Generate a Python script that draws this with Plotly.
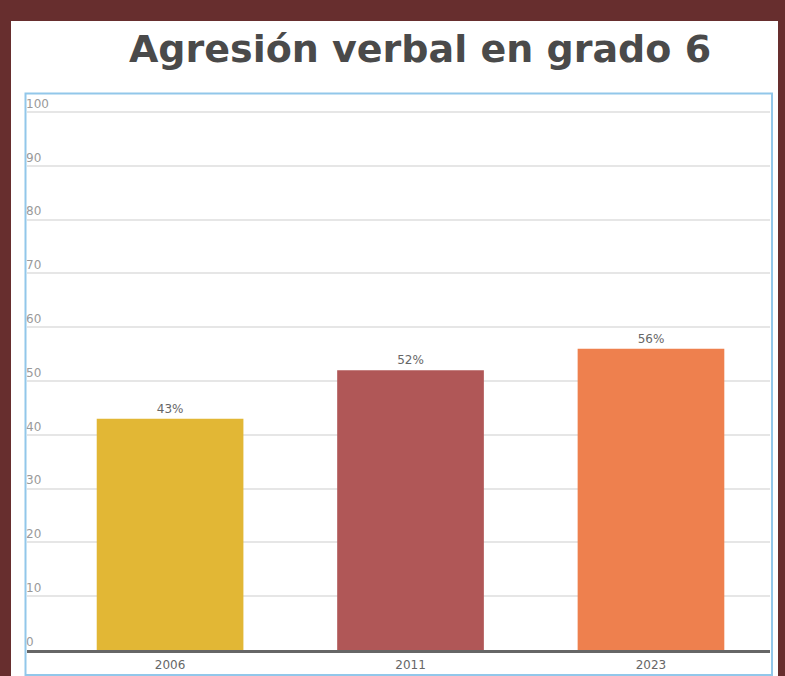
import plotly.graph_objects as go

# data
years = ["2006", "2011", "2023"]
values = [43, 52, 56]
bar_colors = ["#E2B735", "#B05757", "#EE804E"]
y_ticks = [0, 10, 20, 30, 40, 50, 60, 70, 80, 90, 100]

W, H = 785, 676
# plot area: y=0 at 650px, y=100 at 112px; top extended so the "100" label shows
L, R, T, B = 27, 15, 88, 26
pw, ph = W - L - R, H - T - B
y_top = 100 * (650 - T) / (650 - 112)


def px(x):
    return (x - L) / pw


def py(y):
    return (H - B - y) / ph


fig = go.Figure()
fig.add_trace(go.Bar(
    x=years, y=values,
    marker=dict(color=bar_colors, line=dict(width=0)),
    width=0.61,
    text=[f"{v}%" for v in values],
    textposition="outside",
    textfont=dict(family="DejaVu Sans, sans-serif", size=12, color="#666666"),
    cliponaxis=False,
))

fig.update_layout(
    width=W, height=H,
    margin=dict(l=L, r=R, t=T, b=B, pad=0),
    paper_bgcolor="#672E2E",
    plot_bgcolor="white",
    showlegend=False,
    title=dict(
        text="Agresión verbal en grado 6",
        x=px(420), xref="paper", xanchor="center",
        y=1 - 49 / H, yref="container", yanchor="middle",
        font=dict(family="DejaVu Sans, sans-serif", size=38, color="#4A4A4A", weight="bold"),
    ),
    shapes=[
        dict(type="rect", xref="paper", yref="paper", layer="below",
             x0=px(11), x1=px(778), y0=py(700), y1=py(21),
             fillcolor="white", line=dict(width=0)),
        dict(type="rect", xref="paper", yref="paper", layer="above",
             x0=px(25.5), x1=px(772), y0=py(675), y1=py(93.5),
             fillcolor="rgba(0,0,0,0)", line=dict(color="#92C7EA", width=2)),
    ],
)

fig.update_xaxes(
    type="category",
    range=[-0.595, 2.495],
    automargin=False,
    showline=True, linecolor="#666666", linewidth=3,
    showgrid=False, ticks="",
    ticklabelstandoff=2,
    tickfont=dict(family="DejaVu Sans, sans-serif", size=12, color="#666666"),
)
fig.update_yaxes(
    range=[0, y_top],
    tickvals=y_ticks,
    automargin=False,
    ticklabelposition="inside top",
    ticklabelstandoff=-4,
    showgrid=True, gridcolor="#E6E6E6", gridwidth=1.5,
    zeroline=False, showline=False, ticks="",
    tickfont=dict(family="DejaVu Sans, sans-serif", size=12, color="#9A9A9A"),
)

fig.write_html(
    "out.html",
    config={"displayModeBar": False},
    post_script="document.body.style.margin='0';document.body.style.background='#672E2E';",
)
